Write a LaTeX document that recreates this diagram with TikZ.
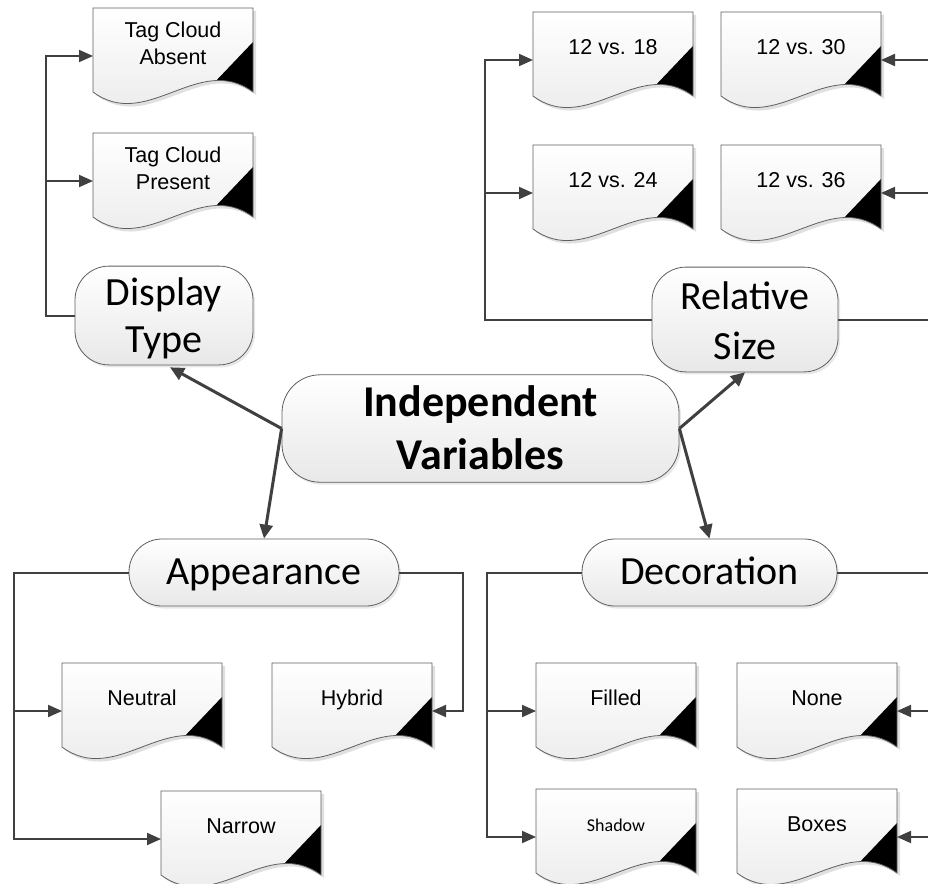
\documentclass[tikz,border=0pt]{standalone}
\usepackage{fontspec}
\setmainfont{Liberation Sans}
\newfontfamily\calibri{Carlito}
\usetikzlibrary{arrows.meta,shadows,calc}
\definecolor{conncol}{HTML}{404040}
\definecolor{edgecol}{HTML}{5F5F5F}
\newcommand{\upr}[1]{\rule{0pt}{#1}}
\newcommand{\dnr}[1]{\rule[-#1]{0pt}{#1}}
\tikzset{
  conn/.style={draw=conncol, line width=2pt},
  connarrow/.style={conn, -{Triangle[length=14pt,width=12pt]}},
  radial/.style={draw=conncol, line width=3pt, -{Triangle[length=14pt,width=13pt]}},
  docfill/.style={top color=white, bottom color=black!9},
  docline/.style={draw=edgecol, line width=0.8pt},
  doctext/.style={align=center, inner sep=0pt, font=\fontsize{21.5}{27}\selectfont},
  pill/.style={draw=edgecol, line width=0.8pt, top color=white, bottom color=black!9,
    inner sep=0pt, align=center,
    drop shadow={opacity=0.18, shadow xshift=2pt, shadow yshift=-2.5pt}},
}
\newcommand{\docshape}[4]{%
  \begin{scope}[shift={(#2,#3)}]
    \fill[black!12] (2,3) -- (163,3) -- (163,87) .. controls (109,47) and (57,127) .. (3,87) -- cycle;
    \path[docfill] (0,0) -- (160,0) -- (160,84) .. controls (106,44) and (54,124) .. (0,84) -- cycle;
    \begin{scope}
      \clip (0,0) -- (160,0) -- (160,84) .. controls (106,44) and (54,124) .. (0,84) -- cycle;
      \fill[black] (160,34) -- (100,97) -- (170,100) -- (170,34) -- cycle;
    \end{scope}
    \draw[docline] (0,0) -- (160,0) -- (160,84) .. controls (106,44) and (54,124) .. (0,84) -- cycle;
  \end{scope}
  \node[doctext] (#1) at ({#2+80},{#3+35}) {\upr{20pt}#4\dnr{4.5pt}};
  \coordinate (#1-W) at (#2,{#3+48});
  \coordinate (#1-E) at ({#2+160},{#3+48});
}
\begin{document}
\begin{tikzpicture}[x=1pt,y=-1pt]
\useasboundingbox (0,0) rectangle (928,883);
\clip (0,0) rectangle (928,883);

% document shapes
\docshape{tca}{93}{8}{Tag Cloud\\Absent}
\docshape{tcp}{93}{133}{Tag Cloud\\Present}
\docshape{v18}{533}{12}{12 vs. 18}
\docshape{v30}{721}{12}{12 vs. 30}
\docshape{v24}{533}{145}{12 vs. 24}
\docshape{v36}{721}{145}{12 vs. 36}
\docshape{neutral}{62}{663}{Neutral}
\docshape{hybrid}{272}{663}{Hybrid}
\docshape{narrow}{161}{791}{Narrow}
\docshape{filled}{536}{663}{Filled}
\docshape{none}{737}{663}{None}
\docshape{shadow}{536}{789}{\calibri\fontsize{18}{20}\selectfont Shadow}
\docshape{boxes}{737}{789}{Boxes}

% rounded nodes
\node[pill, rounded corners=34pt, minimum width=178pt, minimum height=95pt,
  font=\calibri\fontsize{40}{47}\selectfont] (dt) at (164,315.5)
  {\upr{39.8pt}Display\\Type\dnr{12pt}};
\node[pill, rounded corners=34pt, minimum width=186pt, minimum height=101pt,
  font=\calibri\fontsize{40}{50}\selectfont] (rs) at (745,319.5)
  {\upr{42.8pt}Relative\\Size\dnr{12pt}};
\node[pill, rounded corners=38pt, minimum width=397pt, minimum height=103pt,
  font=\calibri\bfseries\fontsize{44}{53}\selectfont] (iv) at (480.5,428.5)
  {\upr{41.4pt}Independent\\Variables\dnr{13pt}};
\node[pill, rounded corners=33pt, minimum width=270pt, minimum height=67pt,
  text height=28pt, text depth=4pt,
  font=\calibri\fontsize{40}{47}\selectfont] (app) at (264,572.5) {Appearance};
\node[pill, rounded corners=33pt, minimum width=255pt, minimum height=67pt,
  text height=28pt, text depth=4pt,
  font=\calibri\fontsize{40}{47}\selectfont] (dec) at (709.5,572.5) {Decoration};

% radial arrows
\draw[radial] (iv.west) -- ($(dt.south)+(6,2)$);
\draw[radial] (iv.west) -- (app.north);
\draw[radial] (iv.east) -- (rs.south);
\draw[radial] (iv.east) -- (dec.north);

% elbow connectors
\draw[connarrow] (dt.west) -- ++(-29,0) |- (tca-W);
\draw[connarrow] (dt.west) -- ++(-29,0) |- (tcp-W);

\draw[connarrow] (rs.west) -- ++(-167,0) |- (v18-W);
\draw[connarrow] (rs.west) -- ++(-167,0) |- (v24-W);
\draw[connarrow] (rs.east) -- ++(100,0) |- (v30-E);
\draw[connarrow] (rs.east) -- ++(100,0) |- (v36-E);

\draw[connarrow] (app.west) -- ++(-115,0) |- (neutral-W);
\draw[connarrow] (app.west) -- ++(-115,0) |- (narrow-W);
\draw[connarrow] (app.east) -- ++(64,0) |- (hybrid-E);

\draw[connarrow] (dec.west) -- ++(-95,0) |- (filled-W);
\draw[connarrow] (dec.west) -- ++(-95,0) |- (shadow-W);
\draw[connarrow] (dec.east) -- ++(100,0) |- (none-E);
\draw[connarrow] (dec.east) -- ++(100,0) |- (boxes-E);
\end{tikzpicture}
\end{document}
